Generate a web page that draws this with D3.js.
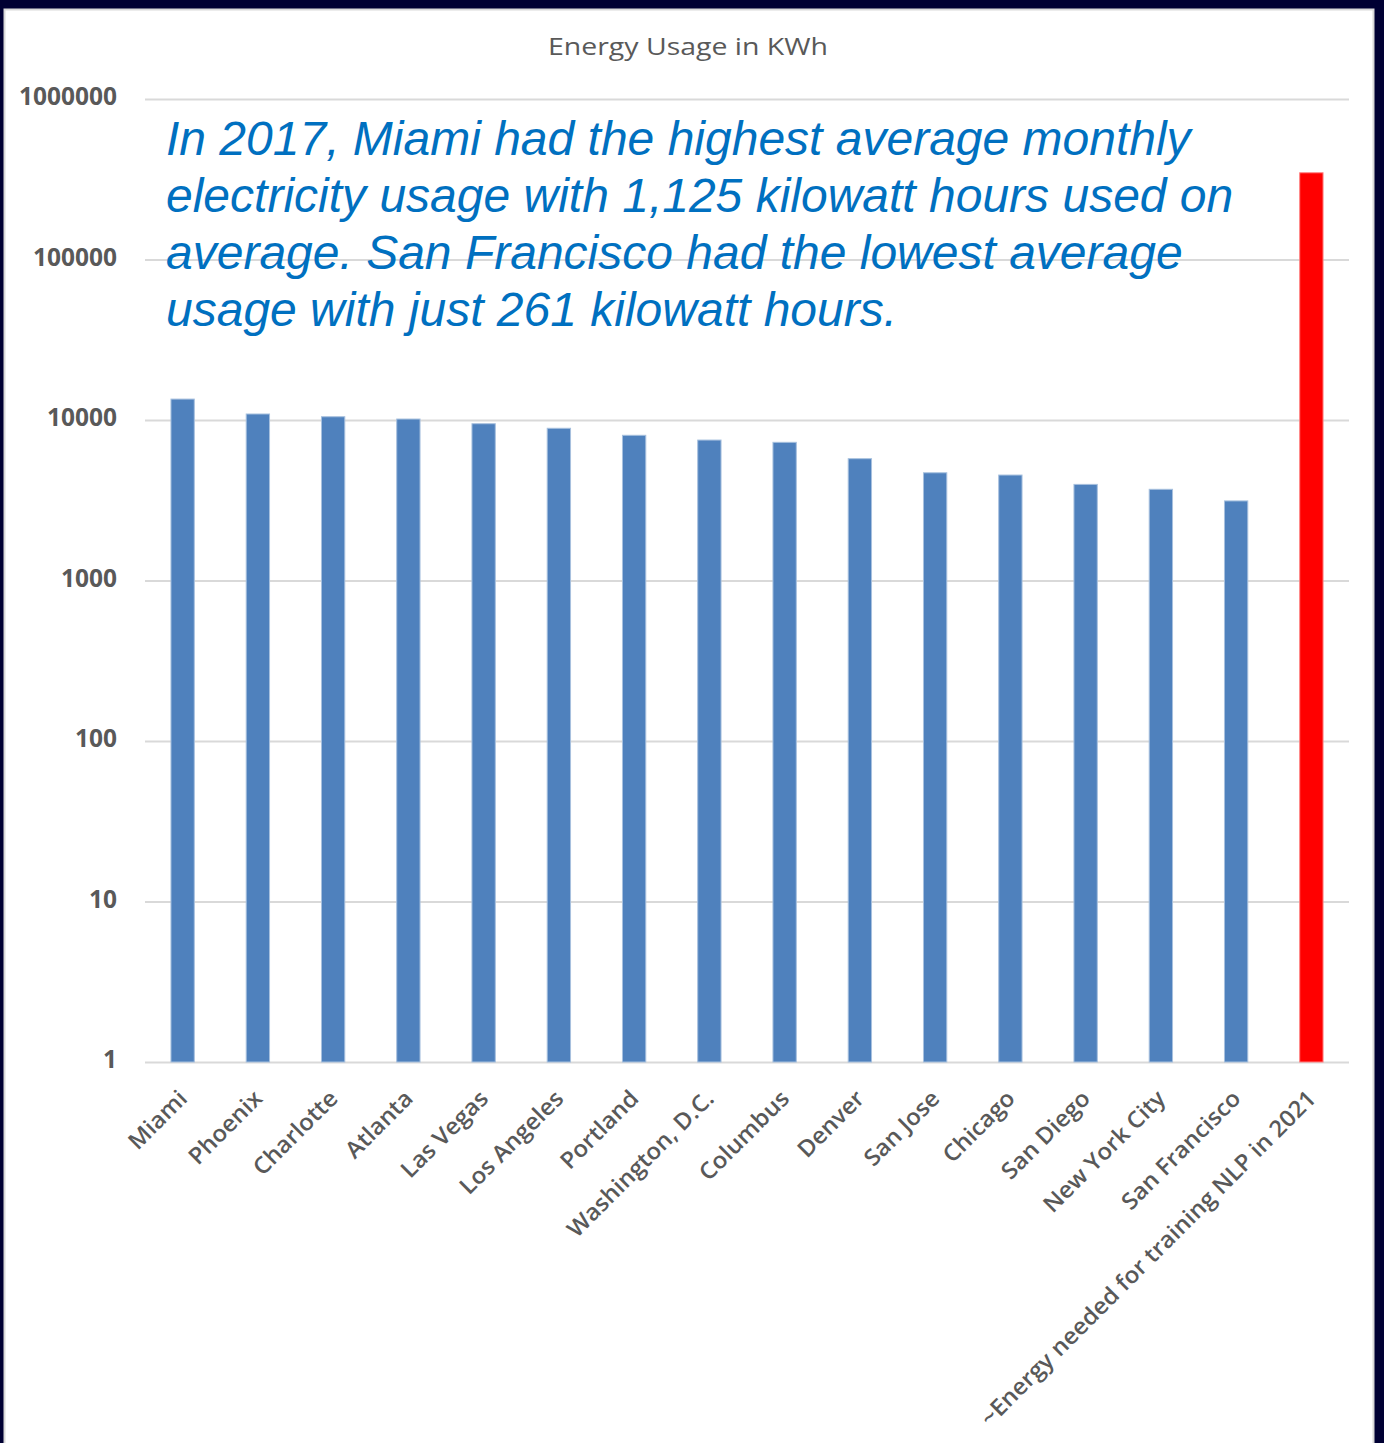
<!DOCTYPE html>
<html>
<head>
<meta charset="utf-8">
<script src="https://cdn.jsdelivr.net/npm/d3@7"></script>
<style>
  html, body { margin: 0; padding: 0; background: #000033; }
  svg { display: block; }
</style>
</head>
<body>
<svg id="chart" width="1384" height="1443"></svg>
<script>
// Yearly electricity use per city (kWh) plus the NLP training estimate
const categories = [
  "Miami", "Phoenix", "Charlotte", "Atlanta", "Las Vegas", "Los Angeles",
  "Portland", "Washington, D.C.", "Columbus", "Denver", "San Jose", "Chicago",
  "San Diego", "New York City", "San Francisco",
  "~Energy needed for training NLP in 2021"
];
const usage = [
  13500, 10900, 10480, 10140, 9480, 8880,
  8030, 7500, 7260, 5740, 4690, 4540,
  3970, 3700, 3132,
  347000
];
const highlight = [
  false, false, false, false, false, false, false, false,
  false, false, false, false, false, false, false, true
];
const yTicks = [1, 10, 100, 1000, 10000, 100000, 1000000];
const titleText = "Energy Usage in KWh";
const noteLines = [
  "In 2017, Miami had the highest average monthly",
  "electricity usage with 1,125 kilowatt hours used on",
  "average. San Francisco had the lowest average",
  "usage with just 261 kilowatt hours."
];

const svg = d3.select("#chart");

// white card inside the dark frame
svg.append("rect")
  .attr("x", 4.5).attr("y", 9.5)
  .attr("width", 1369).attr("height", 1445)
  .attr("fill", "#ffffff")
  .attr("stroke", "#d9d9d9")
  .attr("stroke-width", 2);

const plot = { left: 145, right: 1349, top: 99, bottom: 1062 };

const x = d3.scaleBand()
  .domain(categories)
  .range([plot.left, plot.right])
  .paddingInner(0.69)
  .paddingOuter(0.345);

const y = d3.scaleLog()
  .domain([1, 1000000])
  .range([plot.bottom, plot.top]);

// title
svg.append("text")
  .attr("x", 548).attr("y", 55)
  .attr("textLength", 280)
  .attr("lengthAdjust", "spacingAndGlyphs")
  .attr("font-family", "'Open Sans', sans-serif")
  .attr("font-size", 24)
  .attr("fill", "#595959")
  .text(titleText);

// horizontal gridlines + left axis labels
const yAxis = d3.axisLeft(y)
  .tickValues(yTicks)
  .tickFormat(d3.format("d"))
  .tickSize(-(plot.right - plot.left))
  .tickPadding(28);

const gy = svg.append("g")
  .attr("transform", `translate(${plot.left},0)`)
  .call(yAxis);
gy.select(".domain").remove();
gy.selectAll(".tick line")
  .attr("stroke", "#d9d9d9")
  .attr("stroke-width", 2);
gy.selectAll(".tick text")
  .attr("font-family", "'Open Sans', sans-serif")
  .attr("font-weight", 700)
  .attr("font-size", 24.5)
  .attr("fill", "#595959")
  .attr("y", -2);

// bars
svg.append("g")
  .selectAll("rect")
  .data(categories)
  .join("rect")
  .attr("x", d => x(d))
  .attr("width", x.bandwidth())
  .attr("y", (d, i) => y(usage[i]))
  .attr("height", (d, i) => y(1) - y(usage[i]))
  .attr("fill", (d, i) => highlight[i] ? "#ff0000" : "#4f81bd")
  .attr("stroke", (d, i) => highlight[i] ? "#ff8080" : "#a7c0de")
  .attr("stroke-width", 1);

// rotated category labels
const xAxis = d3.axisBottom(x).tickSize(0).tickPadding(0);
const gx = svg.append("g")
  .attr("transform", `translate(0,${plot.bottom})`)
  .call(xAxis);
gx.select(".domain").remove();
gx.selectAll(".tick text")
  .attr("font-family", "'Open Sans', sans-serif")
  .attr("font-weight", 600)
  .attr("font-size", 23)
  .attr("fill", "#595959")
  .attr("text-anchor", "end")
  .attr("dy", null)
  .attr("y", 0)
  .attr("transform", "translate(6,38) rotate(-45) scale(1.04,1)");

// annotation
const note = svg.append("text")
  .attr("font-family", "'Liberation Sans', Arial, sans-serif")
  .attr("font-style", "italic")
  .attr("font-size", 48)
  .attr("fill", "#0070c0");
note.selectAll("tspan")
  .data(noteLines)
  .join("tspan")
  .attr("x", 166)
  .attr("y", (d, i) => 155 + i * 57)
  .text(d => d);
</script>
</body>
</html>
